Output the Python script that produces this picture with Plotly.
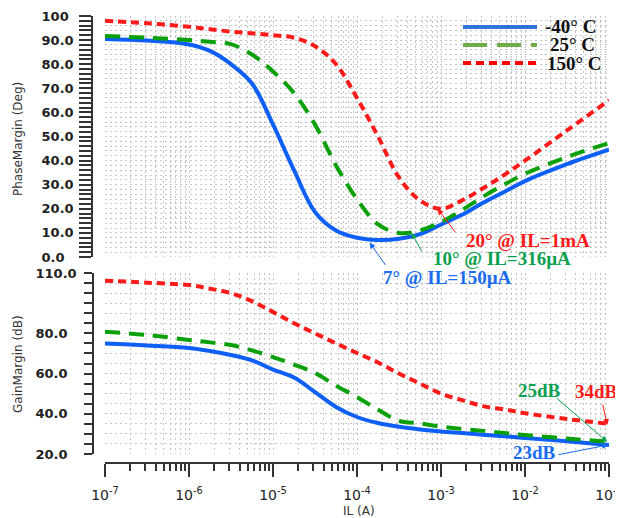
import plotly.graph_objects as go

# ---------------- data ----------------
il = [1e-7, 3.16e-7, 1e-6, 1.78e-6, 3.16e-6, 5.62e-6, 1e-5, 1.78e-5, 3.16e-5, 5.62e-5,
      1e-4, 1.78e-4, 3.16e-4, 5.62e-4, 1e-3, 1.78e-3, 3.16e-3, 5.62e-3, 1e-2, 3.16e-2, 1e-1]

pm_m40 = [90.5, 89.8, 88.2, 85.5, 80, 72, 55, 36, 18.7, 11, 8, 7.1, 7.6, 9.5, 13.5,
          17.5, 22.5, 27, 31.5, 38.5, 44.5]
pm_25 = [91.7, 91, 90, 89.3, 88.3, 84, 77, 68, 55, 38, 24, 13.5, 10, 11, 14.5,
         19.5, 25, 30, 34.5, 41.5, 47.3]
pm_150 = [98, 97, 95.5, 94.5, 93.5, 92.8, 92, 91, 87.5, 80, 66, 50, 33, 23.5, 20,
          23.5, 28.5, 34, 40, 52.5, 65]

gm_m40 = [75, 74, 72.7, 71.2, 69.2, 66.5, 62, 58, 50.8, 43.4, 38.4, 35.4, 33.5, 32.2,
          31.2, 30.4, 29.6, 28.8, 28, 26.3, 24.5]
gm_25 = [80.8, 79.2, 76.7, 75.5, 74.2, 71.5, 68.2, 64.5, 60.3, 54, 48.3, 42, 36.5, 35.2,
         33.6, 32.5, 31.5, 30.5, 29.4, 27.7, 26]
gm_150 = [106.2, 105.2, 104, 102.2, 100, 96, 90.6, 85, 80, 75, 70.2, 65.5, 60, 55,
          50, 46.8, 43.8, 42.2, 40.3, 37.4, 35]

series_names = ["-40° C", "25° C", "150° C"]
x_tickvals = [1e-7, 1e-6, 1e-5, 1e-4, 1e-3, 1e-2, 1e-1]
x_ticktext = ["10<sup>-7</sup>", "10<sup>-6</sup>", "10<sup>-5</sup>", "10<sup>-4</sup>",
              "10<sup>-3</sup>", "10<sup>-2</sup>", "10<sup>-1</sup>"]
x_minor = [m * d for d in [1e-7, 1e-6, 1e-5, 1e-4, 1e-3, 1e-2] for m in range(2, 10)]
pm_tickvals = [0, 10, 20, 30, 40, 50, 60, 70, 80, 90, 100]
# labels are left-aligned in the original: pad with figure / punctuation spaces
pm_ticktext = ["0.0\u2007", "10.0", "20.0", "30.0", "40.0", "50.0", "60.0", "70.0",
               "80.0", "90.0", "100\u2008"]
gm_tickvals = [20, 40, 60, 80, 110]
gm_ticktext = ["20.0\u2007", "40.0\u2007", "60.0\u2007", "80.0\u2007", "110.0"]

# ---------------- style ----------------
# the page body has an 8px margin, so the figure is sized to fill the rest of the window
OFF = 8
W, H = 615, 510
C_BLUE, C_GREEN, C_RED = "#0d5ff5", "#0aa00a", "#ff1a1a"
LEG_BLUE, LEG_GREEN, LEG_RED = "#2e75d6", "#70ad47", "#ff0000"
styles = [dict(color=C_BLUE, width=4, dash="solid"),
          dict(color=C_GREEN, width=4, dash="15px,9px"),
          dict(color=C_RED, width=4, dash="8px,5px")]

def px(xp):
    return (xp - OFF) / W

def py(yp):
    return 1 - (yp - OFF) / H

xdom = [px(105), px(609)]

fig = go.Figure()
for vals, st, nm in zip([pm_m40, pm_25, pm_150], styles, series_names):
    fig.add_trace(go.Scatter(x=il, y=vals, mode="lines", line=dict(shape="spline", **st),
                             name=nm, showlegend=False, xaxis="x", yaxis="y"))
for vals, st, nm in zip([gm_m40, gm_25, gm_150], styles, series_names):
    fig.add_trace(go.Scatter(x=il, y=vals, mode="lines", line=dict(shape="spline", **st),
                             name=nm, showlegend=False, xaxis="x2", yaxis="y2"))

grid = dict(gridcolor="#c6c6c6", griddash="2px,3px", gridwidth=1)
tickfont_y = dict(family="DejaVu Sans", size=13, color="#222", weight="bold")

fig.update_layout(
    template="none",
    width=W, height=H, margin=dict(l=0, r=0, t=0, b=0, autoexpand=False),
    paper_bgcolor="white", plot_bgcolor="white", showlegend=False,
    xaxis=dict(type="log", domain=xdom, range=[-7, -1], anchor="y", automargin=False,
               showticklabels=False, ticks="", showline=False, zeroline=False,
               tickmode="array", tickvals=x_tickvals, showgrid=True, **grid,
               minor=dict(tickmode="array", tickvals=x_minor, showgrid=True, ticks="", **grid)),
    xaxis2=dict(type="log", domain=xdom, range=[-7, -1], anchor="free", position=py(463),
                automargin=False,
                showline=True, linecolor="#333", linewidth=1.5,
                ticks="outside", ticklen=13, tickwidth=1.5, tickcolor="#333",
                tickmode="array", tickvals=x_tickvals, ticktext=x_ticktext,
                tickfont=dict(family="DejaVu Sans", size=14, color="#222"),
                ticklabelstandoff=6, zeroline=False, showgrid=True, **grid,
                minor=dict(tickmode="array", tickvals=x_minor, ticks="outside", ticklen=7,
                           tickwidth=1.5, tickcolor="#333", showgrid=True, **grid)),
    yaxis=dict(domain=[py(257), py(16)], range=[0, 100], anchor="free", position=px(92),
               automargin=False,
               showline=True, linecolor="#333", linewidth=1.5,
               ticks="outside", ticklen=12, tickwidth=1.5, tickcolor="#333",
               tickmode="array", tickvals=pm_tickvals, ticktext=pm_ticktext,
               tickfont=tickfont_y, ticklabelstandoff=3, zeroline=False,
               showgrid=True, **grid,
               minor=dict(dtick=2, ticks="outside", ticklen=12, tickwidth=1.5,
                          tickcolor="#333", showgrid=True, **grid)),
    yaxis2=dict(domain=[py(454), py(273)], range=[20, 110], anchor="free", position=px(93),
                automargin=False,
                showline=True, linecolor="#333", linewidth=1.5,
                ticks="outside", ticklen=8, tickwidth=1.5, tickcolor="#333",
                tickmode="array", tickvals=gm_tickvals, ticktext=gm_ticktext,
                tickfont=tickfont_y, ticklabelstandoff=5, zeroline=False,
                showgrid=True, **grid,
                minor=dict(dtick=5, ticks="outside", ticklen=8, tickwidth=1.5,
                           tickcolor="#333", showgrid=True, **grid)),
)

def txt(text, xp, yp, font, xanchor="center", angle=0):
    return dict(text=text, x=px(xp), y=py(yp), xref="paper", yref="paper",
                xanchor=xanchor, yanchor="middle", textangle=angle,
                showarrow=False, font=font)

anns = []
axis_font = dict(family="DejaVu Sans", size=12, color="#333")
anns.append(txt("PhaseMargin (Deg)", 18, 139, axis_font, angle=-90))
anns.append(txt("GainMargin (dB)", 18, 364, axis_font, angle=-90))
anns.append(txt("IL (A)", 359, 511, axis_font))

# legend (manual, long line samples)
shapes = []
leg_cols = [LEG_BLUE, LEG_GREEN, LEG_RED]
leg_dash = ["solid", "24px,10px", "8px,5px"]
leg_y = [27, 45, 63]
leg_tx = [543, 548, 545]
leg_font = dict(family="Liberation Serif", size=19, color="#111", weight="bold")
for nm, c, d, yy, tx in zip(series_names, leg_cols, leg_dash, leg_y, leg_tx):
    shapes.append(dict(type="line", xref="paper", yref="paper", x0=px(463), x1=px(537),
                       y0=py(yy), y1=py(yy), line=dict(color=c, width=4, dash=d)))
    anns.append(txt(nm, tx, yy, leg_font, xanchor="left"))

lab_font = lambda c: dict(family="Liberation Serif", size=19, color=c, weight="bold")
labels = [("20° @ IL=1mA", 528, 241, C_RED),
          ("10° @ IL=316µA", 502, 258, "#0aa050"),
          ("7° @ IL=150µA", 447, 277, "#1a6cf0"),
          ("25dB", 539, 390, "#0aa050"),
          ("34dB", 596, 391, C_RED),
          ("23dB", 534, 452, "#1a6cf0")]
for t, xx, yy, c in labels:
    anns.append(txt(t, xx, yy, lab_font(c)))

# arrows: head in data coords, tail as pixel offset
arrows = [("x", "y", -3.04, 20.0, 19, 25, C_RED),
          ("x", "y", -3.35, 10.0, 11, 20, "#0aa050"),
          ("x", "y", -3.85, 6.0, 17, 24, "#1a6cf0"),
          ("x2", "y2", -1.02, 26.0, -52, -45, "#0aa050"),
          ("x2", "y2", -1.02, 34.4, -5, -22, C_RED),
          ("x2", "y2", -1.01, 24.5, -51, 10, "#1a6cf0")]
for xr, yr, hx, hy, ax, ay, c in arrows:
    anns.append(dict(text="", x=hx, y=hy, xref=xr, yref=yr, ax=ax, ay=ay, showarrow=True,
                     arrowhead=2, arrowsize=1.2, arrowwidth=1, arrowcolor=c, standoff=0))

fig.update_layout(annotations=anns, shapes=shapes)
fig.write_html("out.html", config={"displayModeBar": False})
